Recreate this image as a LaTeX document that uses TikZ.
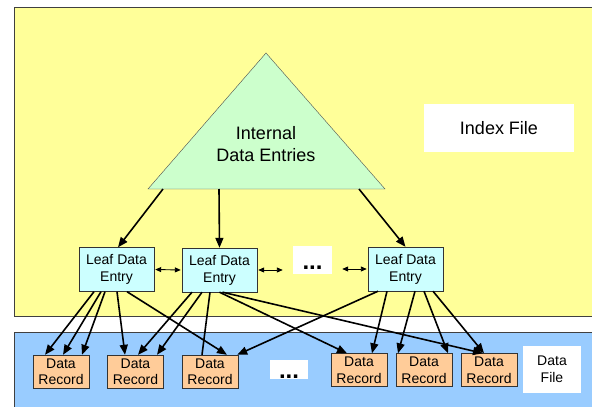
\documentclass[tikz,border=0pt]{standalone}
\usepackage{fontspec}
\setmainfont{Liberation Sans}
\usepackage{tikz}
\usetikzlibrary{arrows.meta, positioning, calc}
\definecolor{idxyellow}{HTML}{FFFF99}
\definecolor{datblue}{HTML}{99CCFF}
\definecolor{trigreen}{HTML}{CCFFCC}
\definecolor{leafcyan}{HTML}{CCFFFF}
\definecolor{recorange}{HTML}{FFCC99}

\begin{document}
\begin{tikzpicture}[x=1pt, y=-1pt,
    leafbox/.style={draw=black!80, fill=leafcyan, minimum width=75pt, minimum height=44pt, inner sep=0pt, align=center, font=\fontsize{14}{17}\selectfont},
    recbox/.style={draw=black!80, fill=recorange, minimum width=56pt, minimum height=33pt, inner sep=0pt, align=center, font=\fontsize{14}{16.5}\selectfont},
    namebox/.style={fill=white, inner sep=0pt, align=center},
    ptr/.style={-{Triangle[length=10pt,width=8pt]}, line width=1.6pt},
    sib/.style={{Triangle[length=6pt,width=5pt]}-{Triangle[length=6pt,width=5pt]}, line width=0.9pt}]
    \useasboundingbox (0,0) rectangle (592,407);
    % File areas
    \draw[draw=black!75, fill=idxyellow] (14,7) rectangle (610,316);
    \draw[draw=black!75, fill=datblue] (14,332) rectangle (610,415);
    % Internal entries
    \coordinate (apex) at (266,53);
    \coordinate (bl) at (148,189);
    \coordinate (br) at (385,189);
    \draw[draw=black!70, fill=trigreen] (apex) -- (bl) -- (br) -- cycle;
    \node (ide) at (266,144) [align=center, font=\fontsize{18}{22}\selectfont] {Internal\\Data Entries};
    \coordinate (tb1) at (163,189);
    \coordinate (tb2) at (219,189);
    \coordinate (tb3) at (359,189);
    \node[namebox, minimum width=150pt, minimum height=48pt, font=\fontsize{18}{22}\selectfont] (idx) at (499,128) {Index File};
    % Leaf entries
    \node[leafbox] (leaf1) at (116.5,269.5) {Leaf Data\\Entry};
    \node[leafbox] (leaf2) at (219.5,270) {Leaf Data\\Entry};
    \node[leafbox] (leaf3) at (405.5,269) {Leaf Data\\Entry};
    \node[namebox, minimum width=39pt, minimum height=28pt, text height=23.5pt, text depth=4.5pt, font=\fontsize{24}{24}\selectfont\bfseries] (dotsA) at (312.5,260) {...};
    % Data records
    \node[recbox] (rec1) at (61,371.5) {Data\\Record};
    \node[recbox] (rec2) at (135.5,371.5) {Data\\Record};
    \node[recbox] (rec3) at (210,371.5) {Data\\Record};
    \node[recbox] (rec4) at (359,370) {Data\\Record};
    \node[recbox] (rec5) at (424,370) {Data\\Record};
    \node[recbox] (rec6) at (489,370) {Data\\Record};
    \node[namebox, minimum width=38pt, minimum height=19pt, text height=18.5pt, text depth=0.5pt, font=\fontsize{24}{24}\selectfont\bfseries] (dotsB) at (289,369.5) {...};
    \node[namebox, minimum width=58pt, minimum height=47pt, font=\fontsize{14}{17}\selectfont] (dfile) at (552,369.5) {Data\\File};
    % Tree pointers
    \draw[ptr] (tb1) -- ([xshift=1.5pt]leaf1.north);
    \draw[ptr] (tb2) -- (leaf2.north);
    \draw[ptr] (tb3) -- (leaf3.north);
    \draw[sib] ([xshift=1pt]leaf1.east) -- ([xshift=-1pt]leaf2.west);
    \draw[sib] ([xshift=1pt]leaf2.east) -- ([xshift=-10pt]leaf2.east -| dotsA.west);
    \draw[sib] ([xshift=10pt]leaf3.west -| dotsA.east) -- ([xshift=-1pt]leaf3.west);
    % Leaf to record pointers
    \draw[ptr] ([xshift=-22.5pt]leaf1.south) -- ([xshift=-16pt]rec1.north);
    \draw[ptr] ([xshift=-15.5pt]leaf1.south) -- ([xshift=2pt]rec1.north);
    \draw[ptr] ([xshift=-11.5pt]leaf1.south) -- ([xshift=21pt]rec1.north);
    \draw[ptr] ([xshift=0.5pt]leaf1.south) -- ([xshift=-10.5pt]rec2.north);
    \draw[ptr] ([xshift=10.5pt]leaf1.south) -- ([xshift=17pt]rec3.north);
    \draw[ptr] ([xshift=-27.5pt]leaf2.south) -- ([xshift=2.5pt]rec2.north);
    \draw[ptr] ([xshift=-17.5pt]leaf2.south) -- ([xshift=21.5pt]rec2.north);
    \draw[line width=1.6pt] ([xshift=-9.5pt]leaf2.south) -- ([xshift=-8pt]rec3.north);
    \draw[ptr] ([xshift=0pt]leaf2.south) -- ([xshift=-12pt]rec4.north);
    \draw[ptr] ([xshift=3pt]leaf2.south) -- ([xshift=-6pt]rec6.north);
    \draw[ptr] ([xshift=-27.5pt]leaf3.south) -- ([xshift=-1pt]rec3.north east);
    \draw[ptr] ([xshift=-18.5pt]leaf3.south) -- ([xshift=13pt]rec4.north);
    \draw[ptr] ([xshift=9.5pt]leaf3.south) -- ([xshift=-26pt]rec5.north);
    \draw[ptr] ([xshift=18.5pt]leaf3.south) -- ([xshift=24pt]rec5.north);
    \draw[ptr] ([xshift=27.5pt]leaf3.south) -- ([xshift=-5pt]rec6.north);
\end{tikzpicture}
\end{document}
